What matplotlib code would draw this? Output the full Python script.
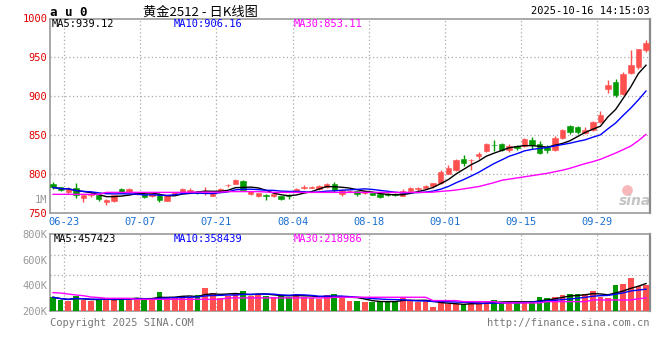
import matplotlib

matplotlib.use("Agg")
import matplotlib.pyplot as plt
import pandas as pd

plt.rcParams['font.family'] = ['DejaVu Sans Mono', 'Noto Sans CJK SC']

# daily OHLC, 06-20 .. 10-16 (79 trading days)
opens = [787.0, 782.8, 776.4, 782.0, 768.7, 772.6, 772.6, 763.6, 764.9, 781.0,
         776.4, 774.3, 774.7, 771.3, 772.6, 766.0, 774.3, 776.4, 776.4, 776.4,
         776.6, 772.2, 778.6, 785.4, 787.6, 791.4, 774.3, 771.3, 772.6, 771.3,
         771.3, 772.6, 777.7, 782.0, 782.5, 780.7, 783.3, 787.6, 774.8, 777.5,
         777.8, 775.6, 775.6, 774.8, 774.8, 774.8, 772.2, 777.8, 780.5, 782.0,
         784.2, 788.5, 800.5, 804.8, 819.3, 817.6, 822.7, 829.2, 837.7, 839.0,
         831.3, 836.4, 835.6, 843.3, 838.6, 834.5, 830.4, 846.3, 861.3, 860.5,
         852.7, 856.1, 866.4, 909.6, 918.2, 903.2, 929.8, 937.5, 958.9]
highs = [789.7, 784.0, 783.0, 788.4, 773.0, 776.0, 775.0, 768.0, 773.0, 782.0,
         781.5, 777.5, 776.0, 776.5, 775.6, 773.0, 777.0, 781.5, 781.5, 778.0,
         784.0, 776.0, 781.5, 787.6, 793.5, 792.0, 778.0, 776.0, 774.3, 775.0,
         772.0, 774.3, 781.5, 785.5, 785.0, 785.5, 788.0, 789.3, 780.5, 780.0,
         778.5, 778.5, 777.0, 776.5, 775.5, 776.0, 781.0, 783.0, 784.0, 786.0,
         788.5, 804.7, 812.0, 819.3, 824.9, 819.3, 828.3, 839.8, 844.1, 840.5,
         838.5, 838.0, 846.0, 847.6, 842.9, 837.7, 848.4, 857.8, 862.5, 861.5,
         860.4, 867.7, 880.5, 920.4, 922.5, 930.6, 959.7, 961.0, 972.6]
lows = [780.7, 778.0, 775.0, 769.0, 764.0, 770.0, 766.0, 760.0, 764.0, 775.6,
        776.0, 773.0, 769.0, 770.5, 764.0, 765.0, 773.5, 776.0, 775.5, 774.0,
        773.5, 771.5, 778.0, 784.0, 787.0, 779.0, 773.5, 770.5, 767.0, 770.5,
        766.2, 767.5, 777.0, 781.0, 781.5, 780.0, 782.5, 777.0, 772.2, 776.5,
        772.2, 775.0, 772.5, 768.8, 772.0, 771.5, 771.4, 777.0, 778.5, 780.8,
        782.5, 787.6, 799.5, 803.5, 809.9, 805.6, 819.3, 828.3, 829.2, 830.0,
        828.3, 831.5, 834.5, 832.6, 826.2, 827.0, 830.0, 845.0, 852.0, 852.0,
        851.9, 854.9, 865.6, 904.1, 898.5, 902.0, 928.9, 935.0, 956.3]
closes = [782.8, 779.8, 780.7, 772.6, 772.6, 775.0, 767.9, 767.0, 772.6, 776.4,
          781.0, 776.8, 770.0, 775.6, 766.1, 772.6, 776.4, 781.0, 779.8, 775.5,
          777.6, 775.6, 780.7, 786.3, 792.7, 779.0, 777.7, 775.6, 771.3, 774.3,
          768.3, 771.3, 780.7, 783.0, 784.0, 785.0, 787.6, 779.0, 779.9, 778.5,
          774.8, 777.8, 773.5, 770.5, 773.0, 772.6, 777.8, 782.1, 782.0, 784.2,
          788.5, 802.2, 807.8, 817.6, 814.2, 818.5, 826.2, 838.6, 836.9, 831.3,
          836.4, 833.4, 845.0, 836.9, 827.0, 830.5, 846.3, 856.1, 854.5, 854.0,
          857.0, 866.8, 875.4, 914.8, 901.1, 928.9, 940.5, 961.0, 968.3]
# 30-day average as drawn (needs days before the visible window)
ma30 = [774.0, 774.0, 774.0, 774.0, 774.0, 774.0, 774.0, 776.5, 776.5, 776.5,
        776.5, 776.5, 776.5, 776.5, 776.5, 776.5, 776.5, 776.5, 776.8, 776.8,
        776.8, 776.8, 776.8, 777.5, 777.5, 777.5, 777.5, 777.5, 777.0, 776.5,
        776.5, 776.5, 776.5, 776.5, 776.5, 776.5, 776.5, 776.5, 776.5, 776.5,
        776.5, 776.5, 776.5, 776.5, 776.5, 776.5, 776.5, 776.5, 776.5, 776.5,
        776.8, 777.8, 778.5, 779.5, 781.0, 782.5, 784.0, 786.5, 789.0, 792.0,
        793.5, 795.0, 796.5, 798.0, 799.5, 801.0, 803.0, 805.0, 807.5, 810.5,
        813.5, 816.0, 819.0, 823.0, 827.0, 831.5, 836.0, 843.0, 851.0]

# volume, thousands
volumes = [307, 286, 278, 319, 286, 278, 286, 304, 286, 304,
           299, 304, 286, 291, 351, 299, 312, 319, 304, 325,
           382, 338, 299, 319, 343, 356, 319, 325, 319, 312,
           325, 312, 332, 312, 304, 291, 325, 332, 311, 278,
           278, 268, 268, 278, 273, 278, 312, 278, 273, 278,
           234, 268, 252, 252, 252, 260, 268, 268, 286, 268,
           268, 268, 268, 278, 312, 304, 312, 325, 332, 332,
           332, 356, 312, 299, 403, 410, 459, 395, 403]
vol_ma30 = [343, 340, 332, 325, 319, 309, 305, 299, 299, 299,
            299, 291, 291, 291, 291, 291, 291, 291, 291, 291,
            291, 291, 291, 302, 302, 302, 302, 302, 302, 302,
            302, 302, 302, 302, 302, 302, 302, 307, 307, 307,
            307, 307, 307, 307, 307, 307, 307, 307, 307, 307,
            281, 281, 281, 281, 273, 273, 273, 273, 273, 263,
            263, 263, 263, 263, 263, 273, 273, 273, 273, 273,
            273, 286, 286, 286, 286, 286, 286, 295, 302]

date_idx = [1, 11, 21, 31, 41, 51, 61, 71]
date_labels = ["06-23", "07-07", "07-21", "08-04", "08-18", "09-01", "09-15", "09-29"]
price_ticks = [750, 800, 850, 900, 950, 1000]
vol_ticks = [200, 400, 600, 800]

RED = "#ff5050"
GREEN = "#009a00"
GRID = "#aaaaaa"
BORDER = "#999999"
W, H = 660, 360


def px(x, y):
    return x / W, 1 - y / H


df = pd.DataFrame({"o": opens, "h": highs, "l": lows, "c": closes, "v": volumes})
ma5 = df["c"].rolling(5, min_periods=1).mean()
ma10 = df["c"].rolling(10, min_periods=1).mean()
vma5 = df["v"].rolling(5, min_periods=1).mean()
vma10 = df["v"].rolling(10, min_periods=1).mean()
x = list(range(len(df)))
cols = [RED if c >= o else GREEN for o, c in zip(df["o"], df["c"])]

fig = plt.figure(figsize=(6.6, 3.6), dpi=100)
ax = fig.add_axes([50 / W, 1 - 213 / H, 599.5 / W, 194.5 / H])
axv = fig.add_axes([50 / W, 1 - 311 / H, 599.5 / W, 77 / H])

# price panel
ax.vlines(x, df["l"], df["h"], colors=cols, linewidth=1, zorder=3)
bottoms = df[["o", "c"]].min(axis=1)
heights = (df["c"] - df["o"]).abs().clip(lower=0.6)
ax.bar(x, heights, bottom=bottoms, width=0.72, color=cols, edgecolor=cols,
       linewidth=0.4, zorder=4)
ax.plot(x, ma5, color="black", lw=1, zorder=5)
ax.plot(x, ma10, color="#0000ff", lw=1, zorder=5)
ax.plot(x, ma30, color="#ff00ff", lw=1, zorder=5)
for yv in [800, 850, 900, 950]:
    ax.axhline(yv, color=GRID, lw=0.9, ls=(0, (1, 2)), zorder=1)
for i in date_idx:
    ax.axvline(i + 0.5, color=GRID, lw=0.9, ls=(0, (1, 2)), zorder=1)
ax.set_xlim(-0.4, 78.46)
ax.set_ylim(750, 1000)
ax.set_yticks(price_ticks)
ax.set_yticklabels([str(t) for t in price_ticks], color="#e00000", fontsize=7.5)
ax.set_xticks([i + 0.5 for i in date_idx])
ax.set_xticklabels(date_labels, color="#1a6fd0", fontsize=7.5)
ax.tick_params(length=0, pad=2)
ax.tick_params(axis="x", pad=3)

# volume panel
axv.bar(x, [v - 200 for v in volumes], bottom=200, width=0.75, color=cols, zorder=3)
axv.plot(x, vma5, color="black", lw=1, zorder=5)
axv.plot(x, vma10, color="#0000ff", lw=1, zorder=5)
axv.plot(x, vol_ma30, color="#ff00ff", lw=1, zorder=5)
for yv in [480, 636]:
    axv.axhline(yv, color=GRID, lw=0.9, ls=(0, (1, 2)), zorder=1)
for i in date_idx:
    axv.axvline(i + 0.5, color=GRID, lw=0.9, ls=(0, (1, 2)), zorder=1)
axv.set_xlim(-0.4, 78.46)
axv.set_ylim(200, 800)
axv.set_yticks(vol_ticks)
axv.set_yticklabels([f"{t}K" for t in vol_ticks], color="#999999", fontsize=7.5)
axv.set_xticks([])
axv.tick_params(length=0, pad=2)

for a in (ax, axv):
    for s in a.spines.values():
        s.set_color(BORDER)
        s.set_linewidth(1.2)
    a.spines["right"].set_color("#888888")
    a.spines["right"].set_linewidth(1.6)

# header texts
fig.text(*px(50, 12), "a u 0", fontsize=9, fontweight="bold", va="center", ha="left")
fig.text(*px(200, 12), "黄金2512 - 日K线图", fontsize=9.5, va="center", ha="center",
         family=["Noto Sans CJK SC", "DejaVu Sans"])
fig.text(*px(650, 11), "2025-10-16 14:15:03", fontsize=7.5, va="center", ha="right")
fig.text(*px(52, 24), "MA5:939.12", fontsize=7.5, va="center", color="black")
fig.text(*px(174, 24), "MA10:906.16", fontsize=7.5, va="center", color="#0000ff")
fig.text(*px(294, 24), "MA30:853.11", fontsize=7.5, va="center", color="#ff00ff")
fig.text(*px(47, 200), "1M", fontsize=7.5, va="center", ha="right", color="#999999")

fig.text(*px(54, 239), "MA5:457423", fontsize=7.5, va="center", color="black")
fig.text(*px(174, 239), "MA10:358439", fontsize=7.5, va="center", color="#0000ff")
fig.text(*px(294, 239), "MA30:218986", fontsize=7.5, va="center", color="#ff00ff")

fig.text(*px(50, 323), "Copyright 2025 SINA.COM", fontsize=7.5, va="center", color="#777777")
fig.text(*px(649, 323), "http://finance.sina.com.cn", fontsize=7.5, va="center",
         ha="right", color="#777777")

# sina watermark
ax.scatter([0.962], [0.12], transform=ax.transAxes, s=45, color="#f6b8b8",
           zorder=2, clip_on=False)
ax.text(0.975, 0.06, "sina", transform=ax.transAxes, fontsize=10, fontweight="bold",
        style="italic", color="#c4c4c4", ha="center", va="center", zorder=2,
        family="DejaVu Sans")

fig.savefig("out.png", dpi=100)
